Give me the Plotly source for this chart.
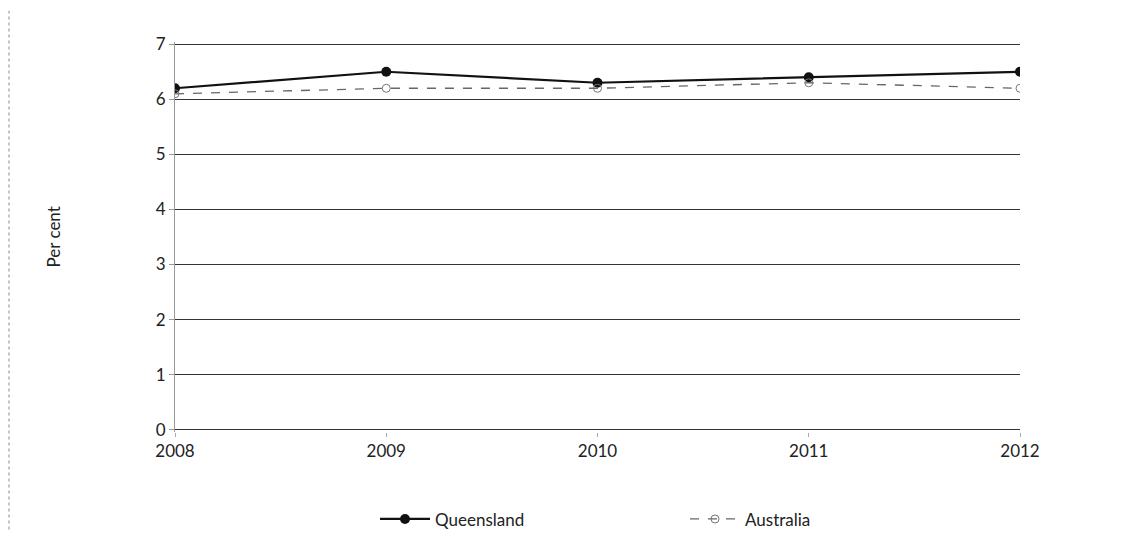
import plotly.graph_objects as go

years = ["2008", "2009", "2010", "2011", "2012"]
queensland = [6.2, 6.5, 6.3, 6.4, 6.5]
australia = [6.1, 6.2, 6.2, 6.3, 6.2]
y_ticks = [0, 1, 2, 3, 4, 5, 6, 7]

# page body has an 8px margin; figure is sized to fit inside the window
W, H = 1110, 523
L, T, PW, PH = 167, 34, 845, 390

fig = go.Figure()
fig.add_trace(go.Scatter(
    x=years, y=queensland, name="Queensland", mode="lines+markers",
    line=dict(color="#111111", width=2.2),
    marker=dict(symbol="circle", size=10, color="#111111"),
))
fig.add_trace(go.Scatter(
    x=years, y=australia, name="Australia", mode="lines+markers",
    line=dict(color="#666666", width=1.3, dash="dash"),
    marker=dict(symbol="circle-open", size=8, color="#777777", line=dict(width=1)),
))

fig.update_layout(
    width=W, height=H,
    paper_bgcolor="white", plot_bgcolor="white",
    margin=dict(l=L, r=W - L - PW, t=T, b=H - T - PH, autoexpand=False),
    font=dict(family="Lato, 'Open Sans', sans-serif", size=17, color="#222222"),
    showlegend=True,
    legend=dict(orientation="h", x=(367 - L) / PW, xanchor="left",
                y=-0.178, yanchor="top", itemwidth=50,
                font=dict(size=17), entrywidth=245, entrywidthmode="pixels"),
    xaxis=dict(
        type="category", range=[0, 4], showgrid=False, zeroline=False,
        showline=False, ticks="outside", ticklen=4, tickcolor="#aaaaaa",
        tickfont=dict(size=17), automargin=False,
    ),
    yaxis=dict(
        range=[-0.04, 7.04], tickvals=y_ticks, showgrid=True, gridcolor="#333333",
        gridwidth=1, zeroline=False, showline=True, linecolor="#999999",
        linewidth=1, ticks="outside", ticklen=5, tickcolor="#999999",
        tickfont=dict(size=17), automargin=False,
    ),
)
fig.add_annotation(text="Per cent", xref="paper", yref="paper",
                   x=(32 - L) / PW, y=0.5, textangle=-90, showarrow=False,
                   font=dict(size=17))
fig.add_shape(type="line", xref="paper", yref="paper",
              x0=(1 - L) / PW, x1=(1 - L) / PW, y0=-0.25, y1=1.08,
              line=dict(color="#888888", width=1, dash="dot"))

fig.write_html("out.html")
